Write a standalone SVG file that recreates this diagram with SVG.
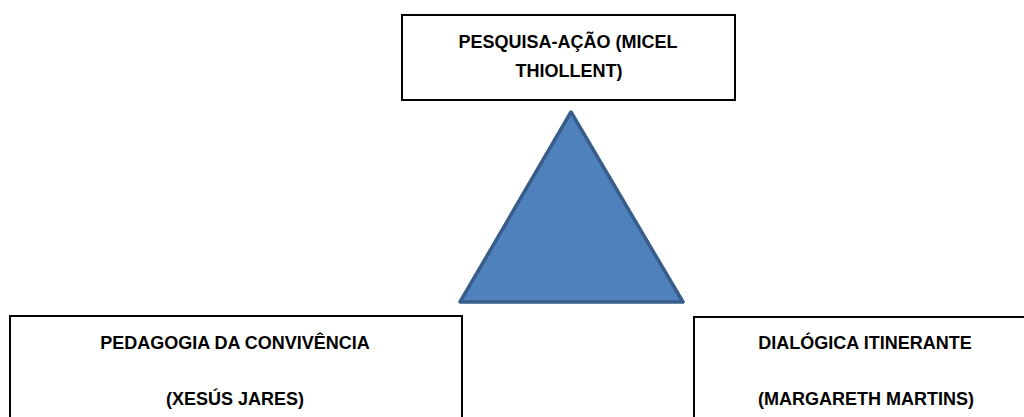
<svg xmlns="http://www.w3.org/2000/svg" width="1024" height="417" viewBox="0 0 1024 417">
<style>
.box{fill:#ffffff;stroke:#000000;stroke-width:2}
.lbl{font-family:"Liberation Sans",Arial,sans-serif;font-weight:bold;font-size:18px;fill:#000000;text-anchor:middle}
.tri{fill:#4F81BD;stroke:#385D8A;stroke-width:3.5;stroke-linejoin:round}
</style>
<rect width="1024" height="417" fill="#ffffff"/>
<g id="triangle">
<polygon class="tri" points="571,112 683,302 460,302"/>
</g>
<g id="connectors"></g>
<g id="node-top">
<rect class="box" x="402" y="15" width="333" height="85"/>
<text class="lbl" x="568" y="48">PESQUISA-AÇÃO (MICEL</text>
<text class="lbl" x="569" y="77">THIOLLENT)</text>
</g>
<g id="node-left">
<rect class="box" x="10" y="316" width="452" height="120"/>
<text class="lbl" x="235" y="349">PEDAGOGIA DA CONVIVÊNCIA</text>
<text class="lbl" x="235" y="405">(XESÚS JARES)</text>
</g>
<g id="node-right">
<rect class="box" x="694" y="317" width="360" height="120"/>
<text class="lbl" x="865" y="349">DIALÓGICA ITINERANTE</text>
<text class="lbl" x="866" y="405">(MARGARETH MARTINS)</text>
</g>
</svg>
